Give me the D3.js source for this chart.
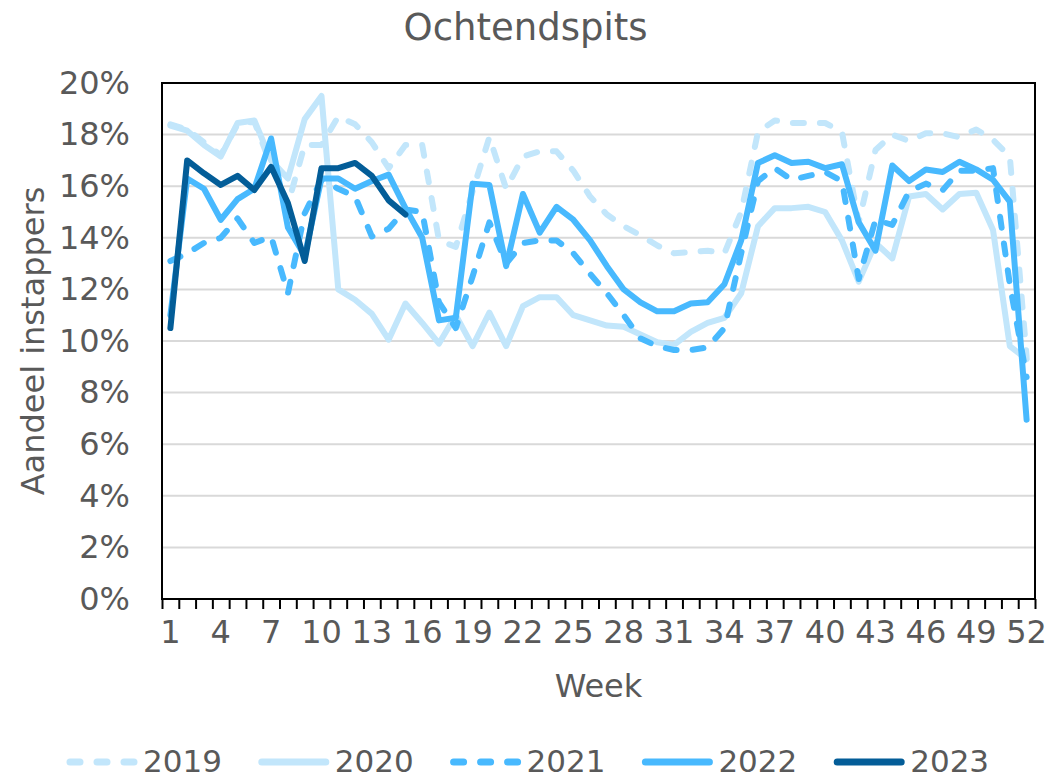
<!DOCTYPE html>
<html>
<head>
<meta charset="utf-8">
<script src="https://cdn.jsdelivr.net/npm/d3@7"></script>
<style>
  body { margin: 0; background: #fff; }
  text { font-family: "DejaVu Sans", Verdana, sans-serif; fill: #595959; }
</style>
</head>
<body>
<svg id="canvas" width="1051" height="779"></svg>
<script>
// weken 1..52
const weken = d3.range(1, 53)
const weekLabels = weken.filter(w => (w - 1) % 3 === 0)
const yTicks = [0, 2, 4, 6, 8, 10, 12, 14, 16, 18, 20]

// aandeel instappers per week (%)
const jaar2019 = [18.4, 18.2, 17.7, 17.2, 18.4, 18.5, 16.8, 15.3, 17.6, 17.6,
  18.7, 18.4, 17.7, 16.7, 17.6, 17.6, 13.9, 13.65, 15.8, 17.9,
  15.9, 17.15, 17.35, 17.35, 16.6, 15.6, 14.9, 14.45, 14.1, 13.7,
  13.4, 13.45, 13.5, 13.4, 15.0, 18.1, 18.55, 18.45, 18.45, 18.45,
  18.1, 14.6, 17.4, 18.0, 17.75, 18.05, 18.05, 17.9, 18.2, 17.8,
  17.15, 9.4]
const jaar2020 = [18.35, 18.15, 17.6, 17.15, 18.45, 18.55, 17.0, 16.3, 18.6, 19.5,
  12.0, 11.6, 11.05, 10.05, 11.45, 10.7, 9.9, 11.0, 9.8, 11.1,
  9.8, 11.35, 11.7, 11.7, 11.0, 10.8, 10.6, 10.55, 10.25, 9.95,
  9.85, 10.35, 10.7, 10.9, 11.85, 14.45, 15.15, 15.15, 15.2, 15.0,
  13.9, 12.3, 13.8, 13.2, 15.6, 15.7, 15.1, 15.7, 15.75, 14.3,
  9.8, 9.3]
const jaar2021 = [13.1, 13.4, 13.8, 14.0, 14.75, 13.8, 14.05, 11.85, 14.95, 16.25,
  15.9, 15.6, 14.05, 14.35, 15.1, 15.0, 11.5, 10.5, 12.5, 14.6,
  13.0, 13.8, 13.9, 13.9, 13.4, 12.6, 11.85, 11.0, 10.1, 9.8,
  9.65, 9.65, 9.75, 10.5, 13.4, 16.2, 16.7, 16.25, 16.4, 16.55,
  16.2, 12.4, 14.7, 14.5, 15.8, 16.1, 15.85, 16.6, 16.6, 16.7,
  12.2, 8.6]
const jaar2022 = [11.0, 16.3, 15.9, 14.7, 15.5, 15.9, 17.85, 14.4, 13.3, 16.3,
  16.3, 15.9, 16.2, 16.45, 15.15, 14.0, 10.8, 10.9, 16.1, 16.05,
  12.9, 15.7, 14.2, 15.2, 14.7, 13.9, 12.9, 12.0, 11.5, 11.15,
  11.15, 11.45, 11.5, 12.2, 13.9, 16.9, 17.2, 16.9, 16.95, 16.7,
  16.85, 14.6, 13.5, 16.8, 16.2, 16.65, 16.55, 16.95, 16.65, 16.25,
  15.4, 6.95]
const jaar2023 = [10.5, 17.0, 16.5, 16.05, 16.4, 15.85, 16.75, 15.35, 13.1, 16.7,
  16.7, 16.9, 16.4, 15.45, 14.9]

const reeksen = [
  { naam: "2019", waarden: jaar2019, kleur: "#c2e6fb", streep: "11,16" },
  { naam: "2020", waarden: jaar2020, kleur: "#c2e6fb", streep: null },
  { naam: "2021", waarden: jaar2021, kleur: "#48b9fe", streep: "11,16" },
  { naam: "2022", waarden: jaar2022, kleur: "#48b9fe", streep: null },
  { naam: "2023", waarden: jaar2023, kleur: "#035d98", streep: null }
]

const canvas = d3.select("#canvas")
const links = 162, rechts = 1035, boven = 83, onder = 599

const x = d3.scaleBand().domain(weken).range([links, rechts]).padding(0)
// voor de streepjes tussen de categorieen
const xGrens = d3.scaleLinear().domain([0.5, 52.5]).range([links, rechts])
const y = d3.scaleLinear().domain([0, 20]).range([onder, boven])

// rasterlijnen
canvas.append("g")
  .selectAll("line")
  .data(yTicks.filter(t => t > 0 && t < 20))
  .enter().append("line")
  .attr("x1", links).attr("x2", rechts)
  .attr("y1", d => y(d)).attr("y2", d => y(d))
  .attr("stroke", "#d9d9d9").attr("stroke-width", 2)

// y labels
const yAs = d3.axisLeft(y).tickValues(yTicks).tickSize(0).tickPadding(32)
  .tickFormat(d => d + "%")
canvas.append("g").attr("transform", "translate(" + links + ",0)").call(yAs)
  .call(g => g.select(".domain").remove())
  .selectAll("text").style("font-size", "32px").attr("fill", "#595959")

// x streepjes
const xStreep = d3.axisBottom(xGrens).tickValues(d3.range(0.5, 53, 1)).tickSize(10).tickFormat("")
canvas.append("g").attr("transform", "translate(0," + onder + ")").call(xStreep)
  .call(g => g.select(".domain").remove())
  .selectAll("line").attr("stroke", "#000").attr("stroke-width", 2)

// x labels
const xAs = d3.axisBottom(x).tickValues(weekLabels).tickSize(0).tickPadding(21)
canvas.append("g").attr("transform", "translate(0," + onder + ")").call(xAs)
  .call(g => g.select(".domain").remove())
  .selectAll("text").style("font-size", "32px").attr("fill", "#595959")

// kader
canvas.append("rect")
  .attr("x", links).attr("y", boven)
  .attr("width", rechts - links).attr("height", onder - boven)
  .attr("fill", "none").attr("stroke", "#000").attr("stroke-width", 2)

// lijnen
const lijn = d3.line()
  .x((d, i) => x(weken[i]) + x.bandwidth() / 2)
  .y(d => y(d))

canvas.append("g").selectAll("path")
  .data(reeksen)
  .enter().append("path")
  .attr("d", d => lijn(d.waarden))
  .attr("fill", "none")
  .attr("stroke", d => d.kleur)
  .attr("stroke-width", 6)
  .attr("stroke-linejoin", "round")
  .attr("stroke-linecap", "round")
  .attr("stroke-dasharray", d => d.streep)

// titels
canvas.append("text").attr("x", 525.5).attr("y", 40)
  .attr("text-anchor", "middle").style("font-size", "37px").text("Ochtendspits")
canvas.append("text").attr("x", (links + rechts) / 2).attr("y", 697)
  .attr("text-anchor", "middle").style("font-size", "32px").text("Week")
canvas.append("text")
  .attr("transform", "translate(44," + (boven + onder) / 2 + ") rotate(-90)")
  .attr("text-anchor", "middle").style("font-size", "32px").text("Aandeel instappers")

// legenda (iets hoger zodat de tekst niet buiten beeld valt)
const legenda = canvas.append("g").selectAll("g")
  .data(reeksen)
  .enter().append("g")
  .attr("transform", (d, i) => "translate(" + (67 + i * 191.8) + ",762)")
legenda.append("line")
  .attr("x1", 3).attr("x2", 67).attr("y1", 0).attr("y2", 0)
  .attr("stroke", d => d.kleur).attr("stroke-width", 7)
  .attr("stroke-linecap", "round")
  .attr("stroke-dasharray", d => d.streep ? "10,17" : null)
legenda.append("text")
  .attr("x", 76).attr("y", 10)
  .style("font-size", "31px")
  .text(d => d.naam)
</script>
</body>
</html>
